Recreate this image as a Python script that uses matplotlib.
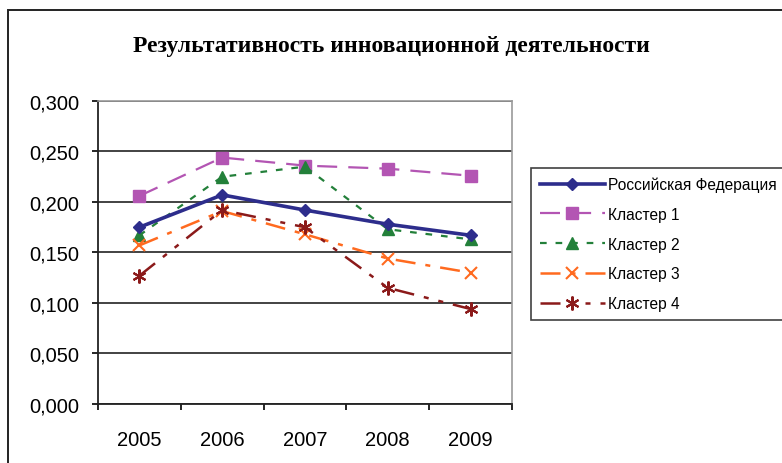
import numpy as np
import matplotlib
matplotlib.use("Agg")
import matplotlib.pyplot as plt
from matplotlib.patches import Rectangle
from matplotlib.ticker import FixedLocator, FuncFormatter

## Innovation effectiveness by year: Russia vs. four clusters
years = ["2005", "2006", "2007", "2008", "2009"]
russia = [0.175, 0.207, 0.192, 0.178, 0.167]
cluster1 = [0.206, 0.244, 0.236, 0.233, 0.226]
cluster2 = [0.167, 0.225, 0.235, 0.173, 0.163]
cluster3 = [0.157, 0.191, 0.168, 0.144, 0.130]
cluster4 = [0.127, 0.192, 0.175, 0.115, 0.094]
names = ["Российская Федерация", "Кластер 1", "Кластер 2", "Кластер 3", "Кластер 4"]

sans = ["Liberation Sans", "DejaVu Sans"]

fig = plt.figure(figsize=(7.82, 4.64), dpi=100)
ax = fig.add_axes([0.1253, 0.1272, 0.5294, 0.653])

# outer chart frame (runs off the right and bottom edges)
fig.patches.append(Rectangle((8 / 782, -0.1), 1.2, (464 - 11) / 464 + 0.1,
                             transform=fig.transFigure, fill=False,
                             edgecolor="#222222", linewidth=1.4))

x = np.arange(len(years))
ax.plot(x, russia, color="#2D2D8C", lw=2.6, ls="-", marker="D", ms=6,
        label=names[0], zorder=5)
ax.plot(x, cluster1, color="#B355B3", lw=1.6, ls=(0, (9, 5)), marker="s", ms=9,
        label=names[1], zorder=4)
ax.plot(x, cluster2, color="#23803A", lw=1.6, ls=(0, (3, 4)), marker="^", ms=9,
        label=names[2], zorder=4)
ax.plot(x, cluster3, color="#FF6A1F", lw=1.8, ls=(0, (8, 4, 2, 4)), marker="x", ms=9,
        mew=1.5, label=names[3], zorder=4)
ax.plot(x, cluster4, color="#8B1A1A", lw=1.8, ls=(0, (8, 4, 2, 4, 2, 4)),
        marker=(6, 2, 0), ms=10, mew=1.5, label=names[4], zorder=4)

ax.set_xlim(-0.5, 4.5)
ax.set_ylim(0, 0.3)
ax.yaxis.set_major_locator(FixedLocator(np.arange(0, 0.301, 0.05)))
ax.yaxis.set_major_formatter(FuncFormatter(lambda v, p: ("%.3f" % v).replace(".", ",")))
ax.grid(axis="y", color="#222222", lw=1.2)
ax.set_axisbelow(True)

# category labels centred, tick marks on the boundaries
ax.xaxis.set_major_locator(FixedLocator(np.arange(-0.5, 4.6, 1)))
ax.xaxis.set_major_formatter(FuncFormatter(lambda v, p: ""))
ax.xaxis.set_minor_locator(FixedLocator(x))
ax.set_xticklabels(years, minor=True)
ax.tick_params(axis="x", which="minor", length=0, pad=19, labelsize=14.5)
ax.tick_params(axis="x", which="major", length=4.5, width=1.2, direction="out")
ax.tick_params(axis="y", length=4.5, width=1.2, direction="out", pad=9, labelsize=14.5)

for s in ["top", "right"]:
    ax.spines[s].set_color("#999999")
    ax.spines[s].set_linewidth(1.2)
for s in ["left", "bottom"]:
    ax.spines[s].set_color("#222222")
    ax.spines[s].set_linewidth(1.3)

fig.text(0.5, 0.9, "Результативность инновационной деятельности",
         ha="center", va="center", fontsize=17, fontweight="bold",
         family="Liberation Serif")

leg = fig.legend(loc="upper left", bbox_to_anchor=(531 / 782, (464 - 169) / 464),
                 frameon=True, fancybox=False, fontsize=11.2, handlelength=4.2,
                 handletextpad=0.2, labelspacing=0.95, borderaxespad=0,
                 borderpad=0.55)
leg.get_frame().set_edgecolor("#111111")
leg.get_frame().set_linewidth(1.2)

for t in ax.get_xticklabels(minor=True) + ax.get_yticklabels() + leg.get_texts():
    t.set_family(sans)

fig.savefig("out.png", dpi=100, facecolor="white")
